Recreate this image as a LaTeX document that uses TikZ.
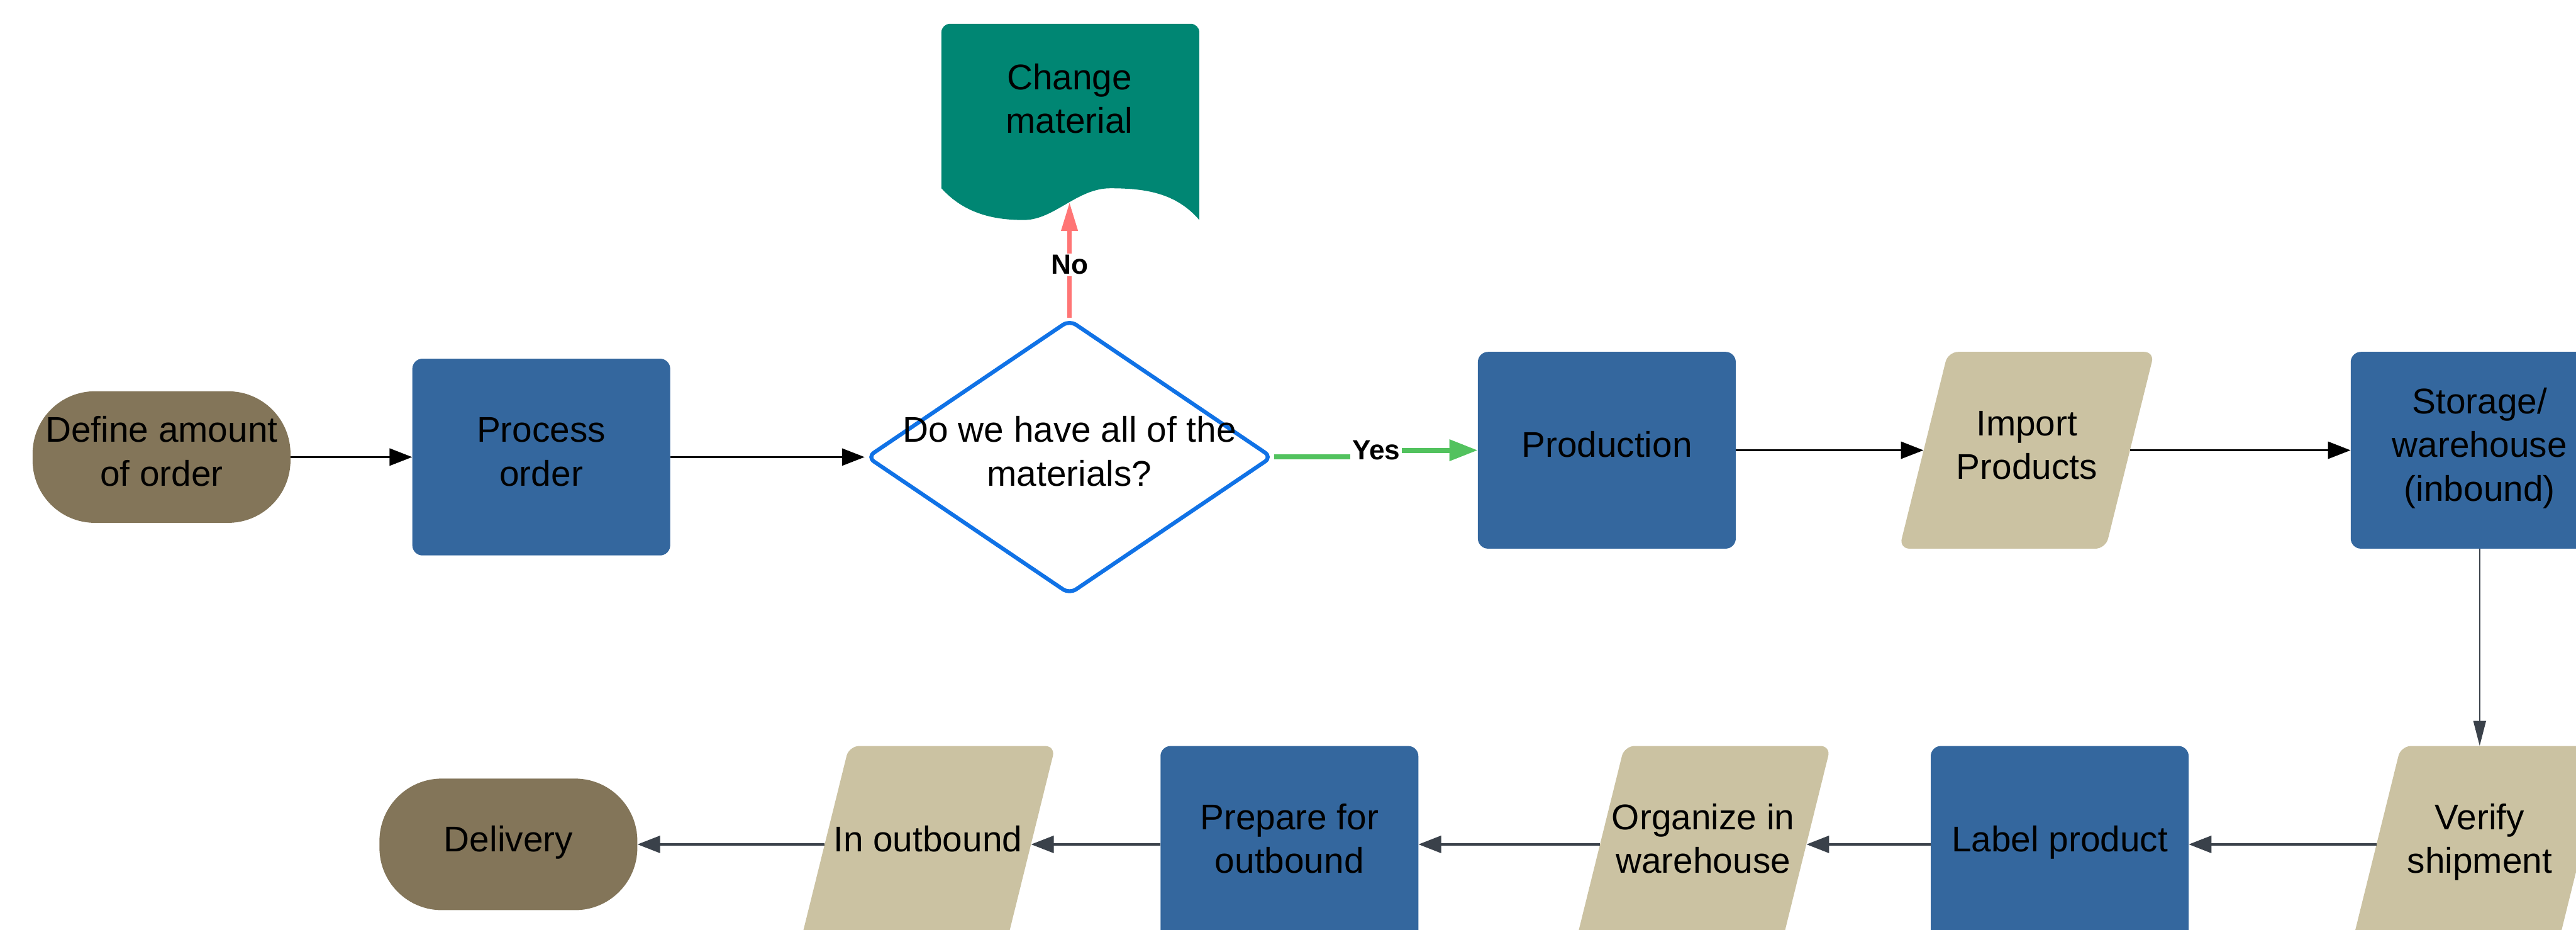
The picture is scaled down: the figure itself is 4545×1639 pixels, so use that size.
\documentclass[tikz,border=0pt]{standalone}
\usepackage{fontspec}
\setmainfont{Liberation Sans}
\usetikzlibrary{arrows.meta,shapes.geometric,calc}
\definecolor{termc}{RGB}{131,117,89}
\definecolor{procc}{RGB}{52,103,158}
\definecolor{ioc}{RGB}{203,194,162}
\definecolor{chgc}{RGB}{0,134,115}
\definecolor{decc}{RGB}{16,114,230}
\definecolor{noc}{RGB}{255,117,117}
\definecolor{yesc}{RGB}{82,194,94}
\definecolor{darrc}{RGB}{58,65,74}
% line strut: every text line occupies a 77pt line box
\newcommand\lsx{\rule[-26pt]{0pt}{77pt}}
% parallelogram (data) box: name, centre, text
\newcommand\ioshape[3]{%
  \fill[ioc, rounded corners=18pt] ($(#2)+(-139,-173.5)$) -- ($(#2)+(225,-173.5)$) -- ($(#2)+(139,173.5)$) -- ($(#2)+(-225,173.5)$) -- cycle;
  \node[iobox] (#1) at (#2) {#3};}
\begin{document}
\begin{tikzpicture}[x=1pt,y=-1pt,
  txt/.style={font=\fontsize{63}{77}\selectfont, align=center, text=black},
  lbl/.style={font=\fontsize{49}{58}\selectfont\bfseries, text=black, fill=white, inner sep=3pt},
  term/.style={txt, fill=termc, rounded corners=110pt, minimum width=455pt, minimum height=232pt, inner sep=0pt},
  proc/.style={txt, fill=procc, rounded corners=18pt, minimum width=455pt, minimum height=347pt, inner sep=0pt},
  iobox/.style={txt, minimum width=364pt, minimum height=347pt, inner sep=0pt},
  blackarrow/.style={draw=black, line width=4pt, -{Triangle[length=40pt,width=30pt]}},
  grayarrow/.style={draw=darrc, line width=4pt, -{Triangle[length=40pt,width=30pt]}},
  thinarrow/.style={draw=darrc, line width=2.5pt, -{Triangle[length=44pt,width=22pt]}},
  noarrow/.style={draw=noc, line width=7pt, -{Triangle[length=50pt,width=28pt]}},
  yesarrow/.style={draw=yesc, line width=9pt, -{Triangle[length=50pt,width=36pt]}}
]
\useasboundingbox (0,0) rectangle (4545,1639);
\clip (0,0) rectangle (4545,1639);

% change material document shape
\fill[chgc] (1661,332) [rounded corners=15pt] -- (1661,42) -- (2116,42) [sharp corners] -- (2116,388)
  .. controls (2075,340) and (2020,332) .. (1959,332)
  .. controls (1900,332) and (1860,388) .. (1806,388)
  .. controls (1750,388) and (1700,375) .. (1661,332) -- cycle;
\node[txt, inner sep=0pt] (chg) at (1887,184) {\lsx Change\\\lsx material};
\coordinate (chgin) at (1887,357);

% top row
\node[term] (def) at (285,806) {\lsx Define amount\\\lsx of order};
\node[proc] (proc) at (955,806) {\lsx Process\\\lsx order};
\node[diamond, draw=decc, line width=7pt, rounded corners=14pt, minimum width=716pt, minimum height=485pt, inner sep=0pt, fill=white] (dec) at (1887,806) {};
\node[txt, inner sep=0pt] (dectext) at (dec.center) {\lsx Do we have all of the\\\lsx materials?};
\node[proc] (prod) at (2835,794) {\lsx Production};
\ioshape{imp}{3576,794}{\lsx Import\\\lsx Products}
\node[proc] (stor) at (4375,794) {\lsx Storage/\\\lsx warehouse\\\lsx (inbound)};

% bottom row
\ioshape{ver}{4375,1489}{\lsx Verify\\\lsx shipment}
\node[proc] (lab) at (3634,1489) {\lsx Label product};
\ioshape{org}{3005,1489}{\lsx Organize in\\\lsx warehouse}
\node[proc] (prep) at (2275,1489) {\lsx Prepare for\\\lsx outbound};
\ioshape{inout}{1637,1489}{\lsx In outbound}
\node[term] (del) at (897,1489) {\lsx Delivery};

% connectors
\draw[blackarrow] (def.east) -- (proc.west);
\draw[blackarrow] (proc.east) -- (dec.west);
\draw[noarrow] (dec.north) -- (chgin);
\node[lbl] (no) at (1887,467) {No};
\coordinate (yb) at (2428,806);
\draw[yesarrow] (dec.east) -- (yb) |- (prod.west);
\node[lbl] (yes) at (2428,794) {Yes};
\draw[blackarrow] (prod.east) -- (imp.west);
\draw[blackarrow] (imp.east) -- (stor.west);
\draw[thinarrow] (stor.south) -- (ver.north);
\draw[grayarrow] (ver.west) -- (lab.east);
\draw[grayarrow] (lab.west) -- (org.east);
\draw[grayarrow] (org.west) -- (prep.east);
\draw[grayarrow] (prep.west) -- (inout.east);
\draw[grayarrow] (inout.west) -- (del.east);
\end{tikzpicture}
\end{document}
